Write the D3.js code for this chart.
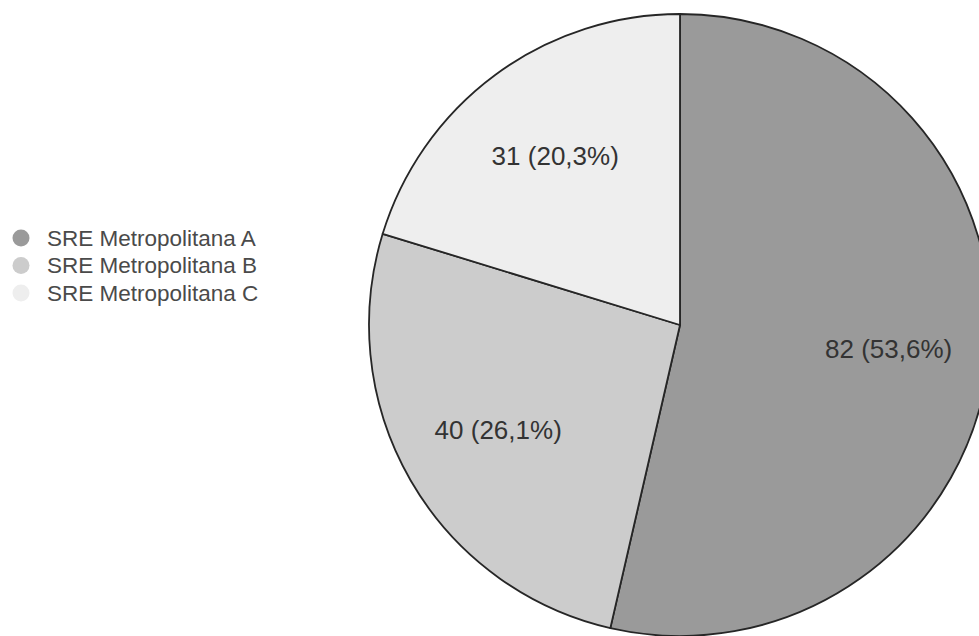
<!DOCTYPE html>
<html>
<head>
<meta charset="utf-8">
<script src="https://cdn.jsdelivr.net/npm/d3@7/dist/d3.min.js"></script>
<style>
  html, body { margin: 0; padding: 0; background: #fff; }
  svg { display: block; font-family: "Liberation Sans", Arial, sans-serif; }
</style>
</head>
<body>
<svg id="chart" width="979" height="636"></svg>
<script>
// Distribution across the three metropolitan regional offices
const categories = ["SRE Metropolitana A", "SRE Metropolitana B", "SRE Metropolitana C"];
const values = [82, 40, 31];
const percentLabels = ["53,6%", "26,1%", "20,3%"];
const colors = ["#9a9a9a", "#cccccc", "#eeeeee"];

const width = 979, height = 636;
const cx = 680, cy = 325, radius = 311;

const svg = d3.select("#chart");

const data = categories.map((c, i) => ({ name: c, value: values[i], pct: percentLabels[i], color: colors[i] }));

const pie = d3.pie().sort(null).value(d => d.value);
const arc = d3.arc().innerRadius(0).outerRadius(radius);
const labelArc = d3.arc().innerRadius(radius * 0.675).outerRadius(radius * 0.675);

const g = svg.append("g").attr("transform", `translate(${cx},${cy})`);
const arcs = pie(data);

g.selectAll("path.slice")
  .data(arcs)
  .join("path")
  .attr("class", "slice")
  .attr("d", arc)
  .attr("fill", d => d.data.color)
  .attr("stroke", "#262626")
  .attr("stroke-width", 1.8)
  .attr("stroke-linejoin", "round");

g.selectAll("text.val")
  .data(arcs)
  .join("text")
  .attr("class", "val")
  .attr("transform", d => `translate(${labelArc.centroid(d)})`)
  .attr("text-anchor", "middle")
  .attr("dy", "0.35em")
  .attr("font-size", 26)
  .attr("fill", "#333")
  .text(d => `${d.data.value} (${d.data.pct})`);

// Legend
const legend = svg.append("g").attr("transform", "translate(21,238)");
const item = legend.selectAll("g.item")
  .data(data)
  .join("g")
  .attr("class", "item")
  .attr("transform", (d, i) => `translate(0,${i * 27.5})`);

item.append("circle")
  .attr("r", 8.5)
  .attr("fill", d => d.color);

item.append("text")
  .attr("x", 26)
  .attr("dy", "0.35em")
  .attr("font-size", 22.5)
  .attr("fill", "#4a4a4a")
  .text(d => d.name);
</script>
</body>
</html>
